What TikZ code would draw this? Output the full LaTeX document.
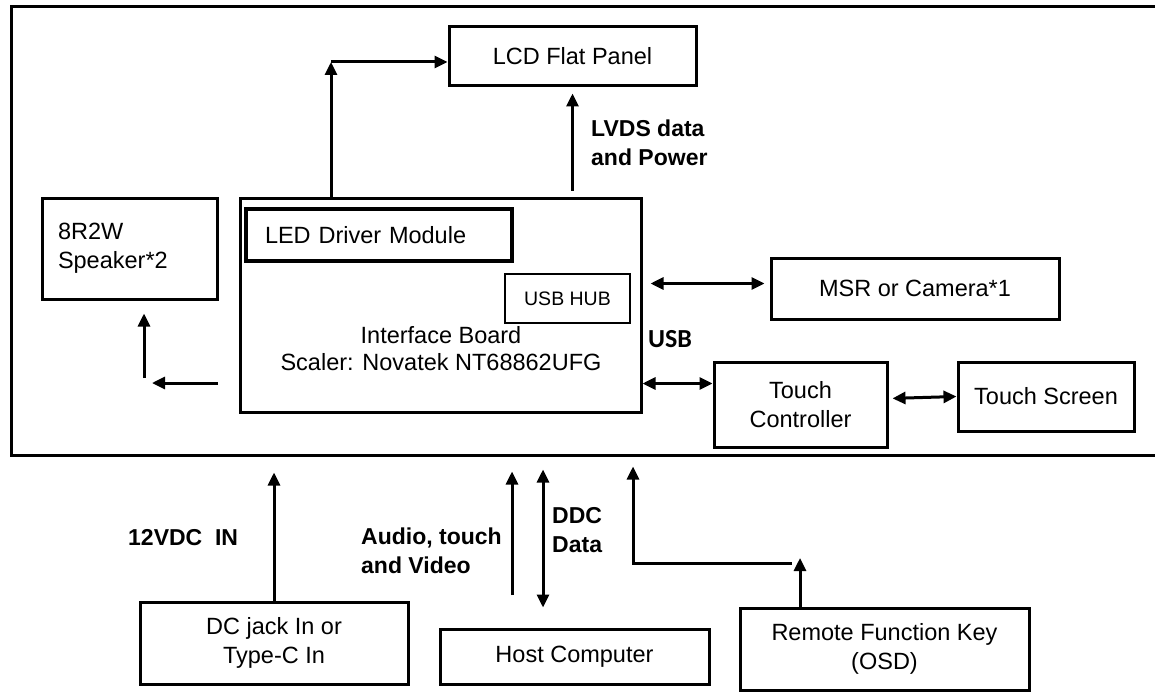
\documentclass[tikz,border=0pt]{standalone}
\usepackage{fontspec}
\setmainfont{Liberation Sans}
\newfontfamily\usbfont{Carlito}
\usetikzlibrary{arrows.meta,positioning}

\tikzset{
  blk/.style={draw, line width=3pt, inner sep=0pt, align=center, font=\fontsize{23.5}{29}\selectfont},
  txt/.style={inner sep=0pt, align=center, font=\fontsize{23.5}{27}\selectfont},
  lbl/.style={inner sep=0pt, align=left, anchor=west, font=\fontsize{23}{29}\selectfont\bfseries},
  arr/.style={line width=3pt, -{Triangle[length=13pt,width=12pt]}},
  darr/.style={line width=3pt, {Triangle[length=13pt,width=12pt]}-{Triangle[length=13pt,width=12pt]}},
}

\begin{document}
\begin{tikzpicture}[x=1pt,y=-1pt]
\useasboundingbox (0,0) rectangle (1155,695);

% Monitor enclosure
\node[draw, line width=3pt, minimum width=1149pt, minimum height=448pt] (monitor) at (585.5,231) {};

% Inside
\node[blk, minimum width=247pt, minimum height=59pt] (lcd) at (572.5,56.5) {LCD Flat Panel};
\node[blk, minimum width=175pt, minimum height=101pt, text width=143pt, align=left] (spk) at (129.5,248.5) {8R2W\\Speaker*2};
\node[blk, minimum width=401pt, minimum height=214pt] (board) at (440.5,305) {};
\node[blk, line width=3.5pt, minimum width=266pt, minimum height=52pt, text width=228pt, align=left] (led) at (379,235) {LED Driver Module};
\node[blk, line width=2.5pt, minimum width=125pt, minimum height=49pt, font=\fontsize{19.5}{23}\selectfont] (hub) at (567.5,298.5) {USB HUB};
\node[txt] (ifc) at (441,349) {Interface Board\\Scaler: Novatek NT68862UFG};
\node[blk, minimum width=288pt, minimum height=61pt] (msr) at (915,288.5) {MSR or Camera*1};
\node[blk, minimum width=173pt, minimum height=85pt] (tc) at (800.5,404.5) {Touch\\Controller};
\node[blk, minimum width=176pt, minimum height=69pt] (ts) at (1046,396.5) {Touch Screen};

% Outside
\node[blk, minimum width=268pt, minimum height=82pt] (dcj) at (274,643) {DC jack In or\\Type-C In};
\node[blk, minimum width=269pt, minimum height=55pt] (host) at (574.5,656.5) {Host Computer};
\node[blk, minimum width=289pt, minimum height=82pt] (rfk) at (884.5,649) {Remote Function Key\\(OSD)};

% Labels
\node[lbl] (lvdslbl) at (591,143) {LVDS data\\and Power};
\node[inner sep=0pt, anchor=west, font=\fontsize{26}{30}\usbfont\bfseries] (usblbl) at (648,339) {USB};
\node[lbl] (pwrlbl) at (128,538) {12VDC\ \ IN};
\node[lbl] (avlbl) at (361,551) {Audio, touch\\and Video};
\node[lbl] (ddclbl) at (552,530) {DDC\\Data};

% Panel links
\coordinate (lcdturn) at (331,62);
\draw[arr] (lcdturn |- board.north) -- (lcdturn);
\draw[arr] (lcdturn) -- (lcdturn -| lcd.west);
\draw[arr, shorten <=6pt, shorten >=6pt] (board.north -| lcd.south) -- (lcd.south);

% Speaker
\coordinate (spkout) at (218,383);
\coordinate (spkin) at (144,378);
\draw[arr, shorten >=8pt] (spkout) -- (spkout -| spkin);
\draw[arr, shorten >=13pt] (spkin) -- (spkin |- spk.south);

% USB side
\coordinate (msrport) at ([yshift=5pt]msr.west);
\draw[darr, shorten <=8pt, shorten >=5pt] (board.east |- msrport) -- (msrport);
\coordinate (tcport) at ([yshift=21pt]tc.west);
\draw[darr] (board.east |- tcport) -- (tcport);
\draw[darr, shorten <=4pt] ([yshift=6pt]tc.east) -- (ts.west);

% Inputs from below
\draw[arr, shorten >=16pt] (dcj.north) -- (dcj.north |- monitor.south);
\coordinate (avsrc) at (512,595);
\draw[arr, shorten >=15pt] (avsrc) -- (avsrc |- monitor.south);
\coordinate (ddcx) at (543,609);
\draw[darr, shorten <=13pt, shorten >=20pt] (ddcx |- monitor.south) -- (ddcx |- host.north);
\coordinate (osdup) at (800,558);
\coordinate (osdturn) at (633,563);
\draw[arr] (osdup |- rfk.north) -- (osdup);
\draw[arr, shorten <=8pt, shorten >=10pt] (osdup |- osdturn) -- (osdturn) -- (osdturn |- monitor.south);
\end{tikzpicture}
\end{document}
